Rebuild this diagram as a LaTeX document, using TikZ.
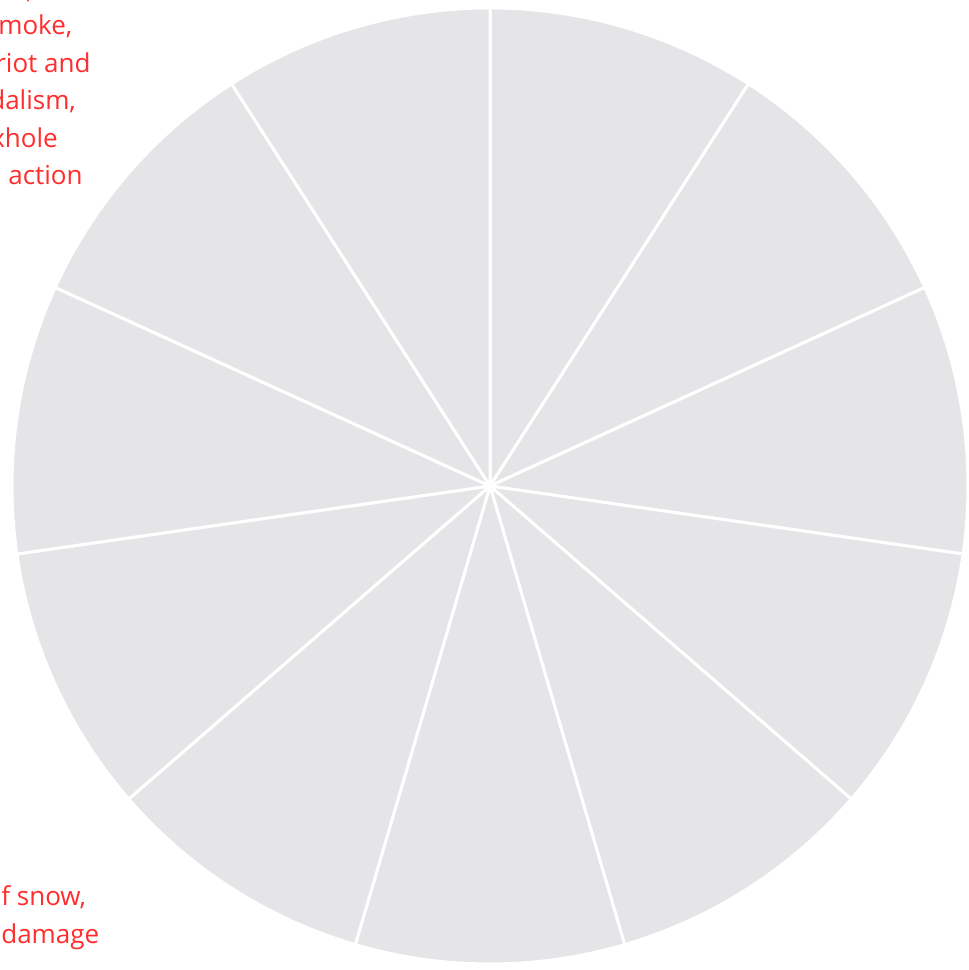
\documentclass[tikz,border=0pt]{standalone}
\usepackage{fontspec}
\setmainfont{Open Sans}
\definecolor{piegray}{RGB}{229,228,230}
\definecolor{labelred}{RGB}{255,45,45}
\tikzset{
  sector/.style={fill=piegray, draw=white, line width=1.7pt, line join=round},
  cutlabel/.style={text=labelred, font=\fontsize{14.8}{21}\selectfont, inner sep=0pt, anchor=base west},
}

\begin{document}
\begin{tikzpicture}[x=0.02cm, y=0.02cm]
  \useasboundingbox (0,0) rectangle (969,970);
  \clip (0,0) rectangle (969,970);

  % --- pie: 11 equal slices ---
  \coordinate (centre) at (490,484);
  \foreach \k in {0,...,10}{
    \pgfmathsetmacro{\a}{90-\k*360/11}
    \pgfmathsetmacro{\b}{90-(\k+1)*360/11}
    \draw[sector] (centre) -- ++(\a:478) arc[start angle=\a, end angle=\b, radius=478] -- cycle;
  }

  % --- labels cut by the left edge ---
  \foreach \i/\x/\y/\txt in {0/26/971/{,}, 1/-2/935/{moke,}, 2/-5/897/{riot and},
                             3/-11/860/{dalism,}, 4/-9/822/{xhole}, 5/8/785/{action}}
    \node[cutlabel] (upper\i) at (\x,\y) {\txt};
  \foreach \i/\x/\y/\txt in {0/1/64/{f snow,}, 1/1/27/{damage}}
    \node[cutlabel] (lower\i) at (\x,\y) {\txt};

\end{tikzpicture}
\end{document}
